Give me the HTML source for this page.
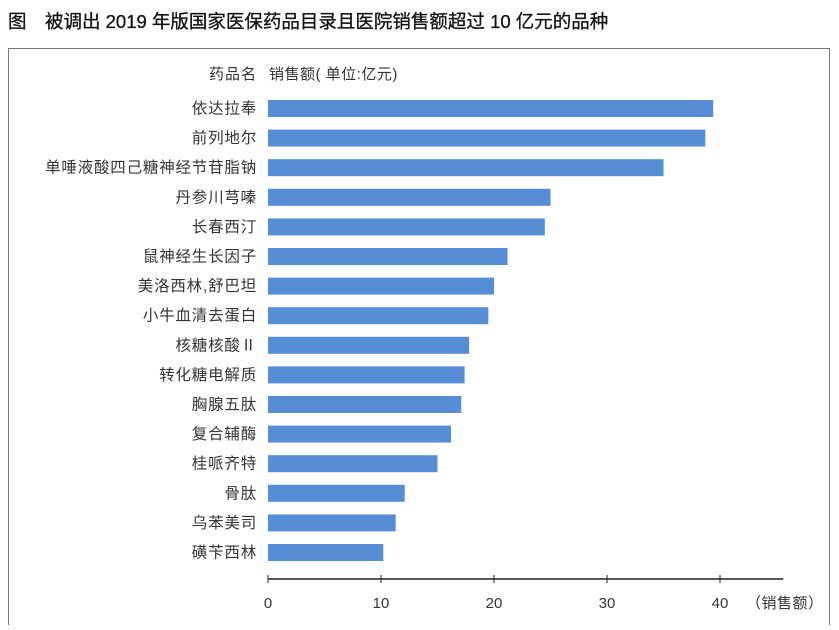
<!DOCTYPE html>
<html><head><meta charset="utf-8">
<style>
body{margin:0;width:839px;height:625px;background:#fff;overflow:hidden;font-family:"Liberation Sans","Noto Sans CJK SC",sans-serif;}
svg text{font-family:"Liberation Sans","Noto Sans CJK SC",sans-serif;}
</style></head>
<body>
<svg id="chart" width="839" height="625">
<text x="8" y="28" font-size="18.5" fill="#111" stroke="#111" stroke-width="0.3">图　被调出 2019 年版国家医保药品目录且医院销售额超过 10 亿元的品种</text>
<rect x="8.5" y="48.5" width="821" height="590" fill="none" stroke="#777" stroke-width="1"/>
<text x="257" y="79" font-size="15" letter-spacing="1" fill="#333" text-anchor="end">药品名</text>
<text x="269" y="79" font-size="15" letter-spacing="0.5" fill="#333">销售额( 单位:亿元)</text>
<g id="bars"></g>
<g id="axis"></g>
</svg>
<script>
const categories=["依达拉奉","前列地尔","单唾液酸四己糖神经节苷脂钠","丹参川芎嗪","长春西汀","鼠神经生长因子","美洛西林,舒巴坦","小牛血清去蛋白","核糖核酸Ⅱ","转化糖电解质","胸腺五肽","复合辅酶","桂哌齐特","骨肽","乌苯美司","磺苄西林"];
const values=[39.4,38.7,35.0,25.0,24.5,21.2,20.0,19.5,17.8,17.4,17.1,16.2,15.0,12.1,11.3,10.2];
const ticks=[0,10,20,30,40];
const ns="http://www.w3.org/2000/svg";
const x0=268,scale=11.3,y0=108.5,step=29.6,bh=17,axisY=579,axisMax=45.6;
const xs=v=>x0+v*scale, ys=i=>y0+i*step;
const bars=document.getElementById('bars'),axis=document.getElementById('axis');
function mk(t,a,p){const e=document.createElementNS(ns,t);for(const k in a)e.setAttribute(k,a[k]);p.appendChild(e);return e;}
categories.forEach((c,i)=>{
  const r=mk('rect',{x:x0,y:ys(i)-bh/2,width:xs(values[i])-x0,height:bh,fill:'#558ed5'},bars);
  
  
  const t=mk('text',{x:257,y:ys(i)+5,'font-size':15.5,'letter-spacing':0.8,fill:'#333','text-anchor':'end'},bars);
  t.textContent=c;
  
  
});
const l=mk('line',{x1:x0,x2:xs(axisMax),y1:axisY,y2:axisY,stroke:'#222','stroke-width':1.5},axis);


ticks.forEach(v=>{
  const tk=mk('line',{x1:xs(v),x2:xs(v),y1:axisY-4,y2:axisY+4,stroke:'#222','stroke-width':1},axis);
  
  
  const t=mk('text',{x:xs(v),y:608,'font-size':15,fill:'#333','text-anchor':'middle'},axis);
  t.textContent=v;
  
  
});
const u=mk('text',{x:746,y:608,'font-size':15,'letter-spacing':0.5,fill:'#333'},axis);
u.textContent='（销售额）';


</script>
</body></html>
